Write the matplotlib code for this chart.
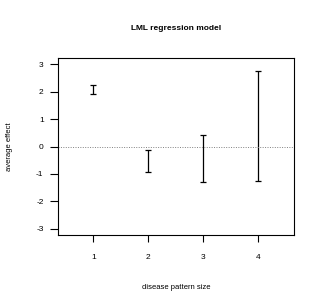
import matplotlib
matplotlib.use("Agg")
import matplotlib.pyplot as plt
import numpy as np

# error intervals
pattern_size = [1, 2, 3, 4]
lower = [1.92, -0.92, -1.31, -1.26]
upper = [2.25, -0.14, 0.43, 2.74]
yticks = [-3, -2, -1, 0, 1, 2, 3]

plt.rcParams['font.family'] = ['Liberation Sans', 'DejaVu Sans']
plt.rcParams['axes.unicode_minus'] = False

fig = plt.figure(figsize=(3.24, 3.07), dpi=100)
ax = fig.add_axes([0.1775, 0.2345, 0.7299, 0.5765])

lo = np.array(lower)
hi = np.array(upper)
mid = (lo + hi) / 2
ax.errorbar(pattern_size, mid, yerr=[mid - lo, hi - mid], fmt='none',
            ecolor='black', elinewidth=0.9, capsize=2.2, capthick=0.9)
ax.axhline(0, color='gray', linestyle=(0, (1, 1.5)), linewidth=0.7)

ax.set_xlim(0.35, 4.65)
ax.set_ylim(-3.23, 3.23)
ax.set_xticks(pattern_size)
ax.set_yticks(yticks)
ax.tick_params(axis='x', direction='out', length=5, width=0.8, pad=8.5, labelsize=6)
ax.tick_params(axis='y', direction='out', length=5.5, width=0.8, pad=4.5, labelsize=6)
for s in ax.spines.values():
    s.set_linewidth(0.8)

ax.set_title("LML regression model", fontsize=6, fontweight='bold', pad=20)
ax.set_xlabel("disease pattern size", fontsize=5.5, labelpad=17)
ax.set_ylabel("average effect", fontsize=5.5, labelpad=17)

fig.savefig("out.png", dpi=100)
